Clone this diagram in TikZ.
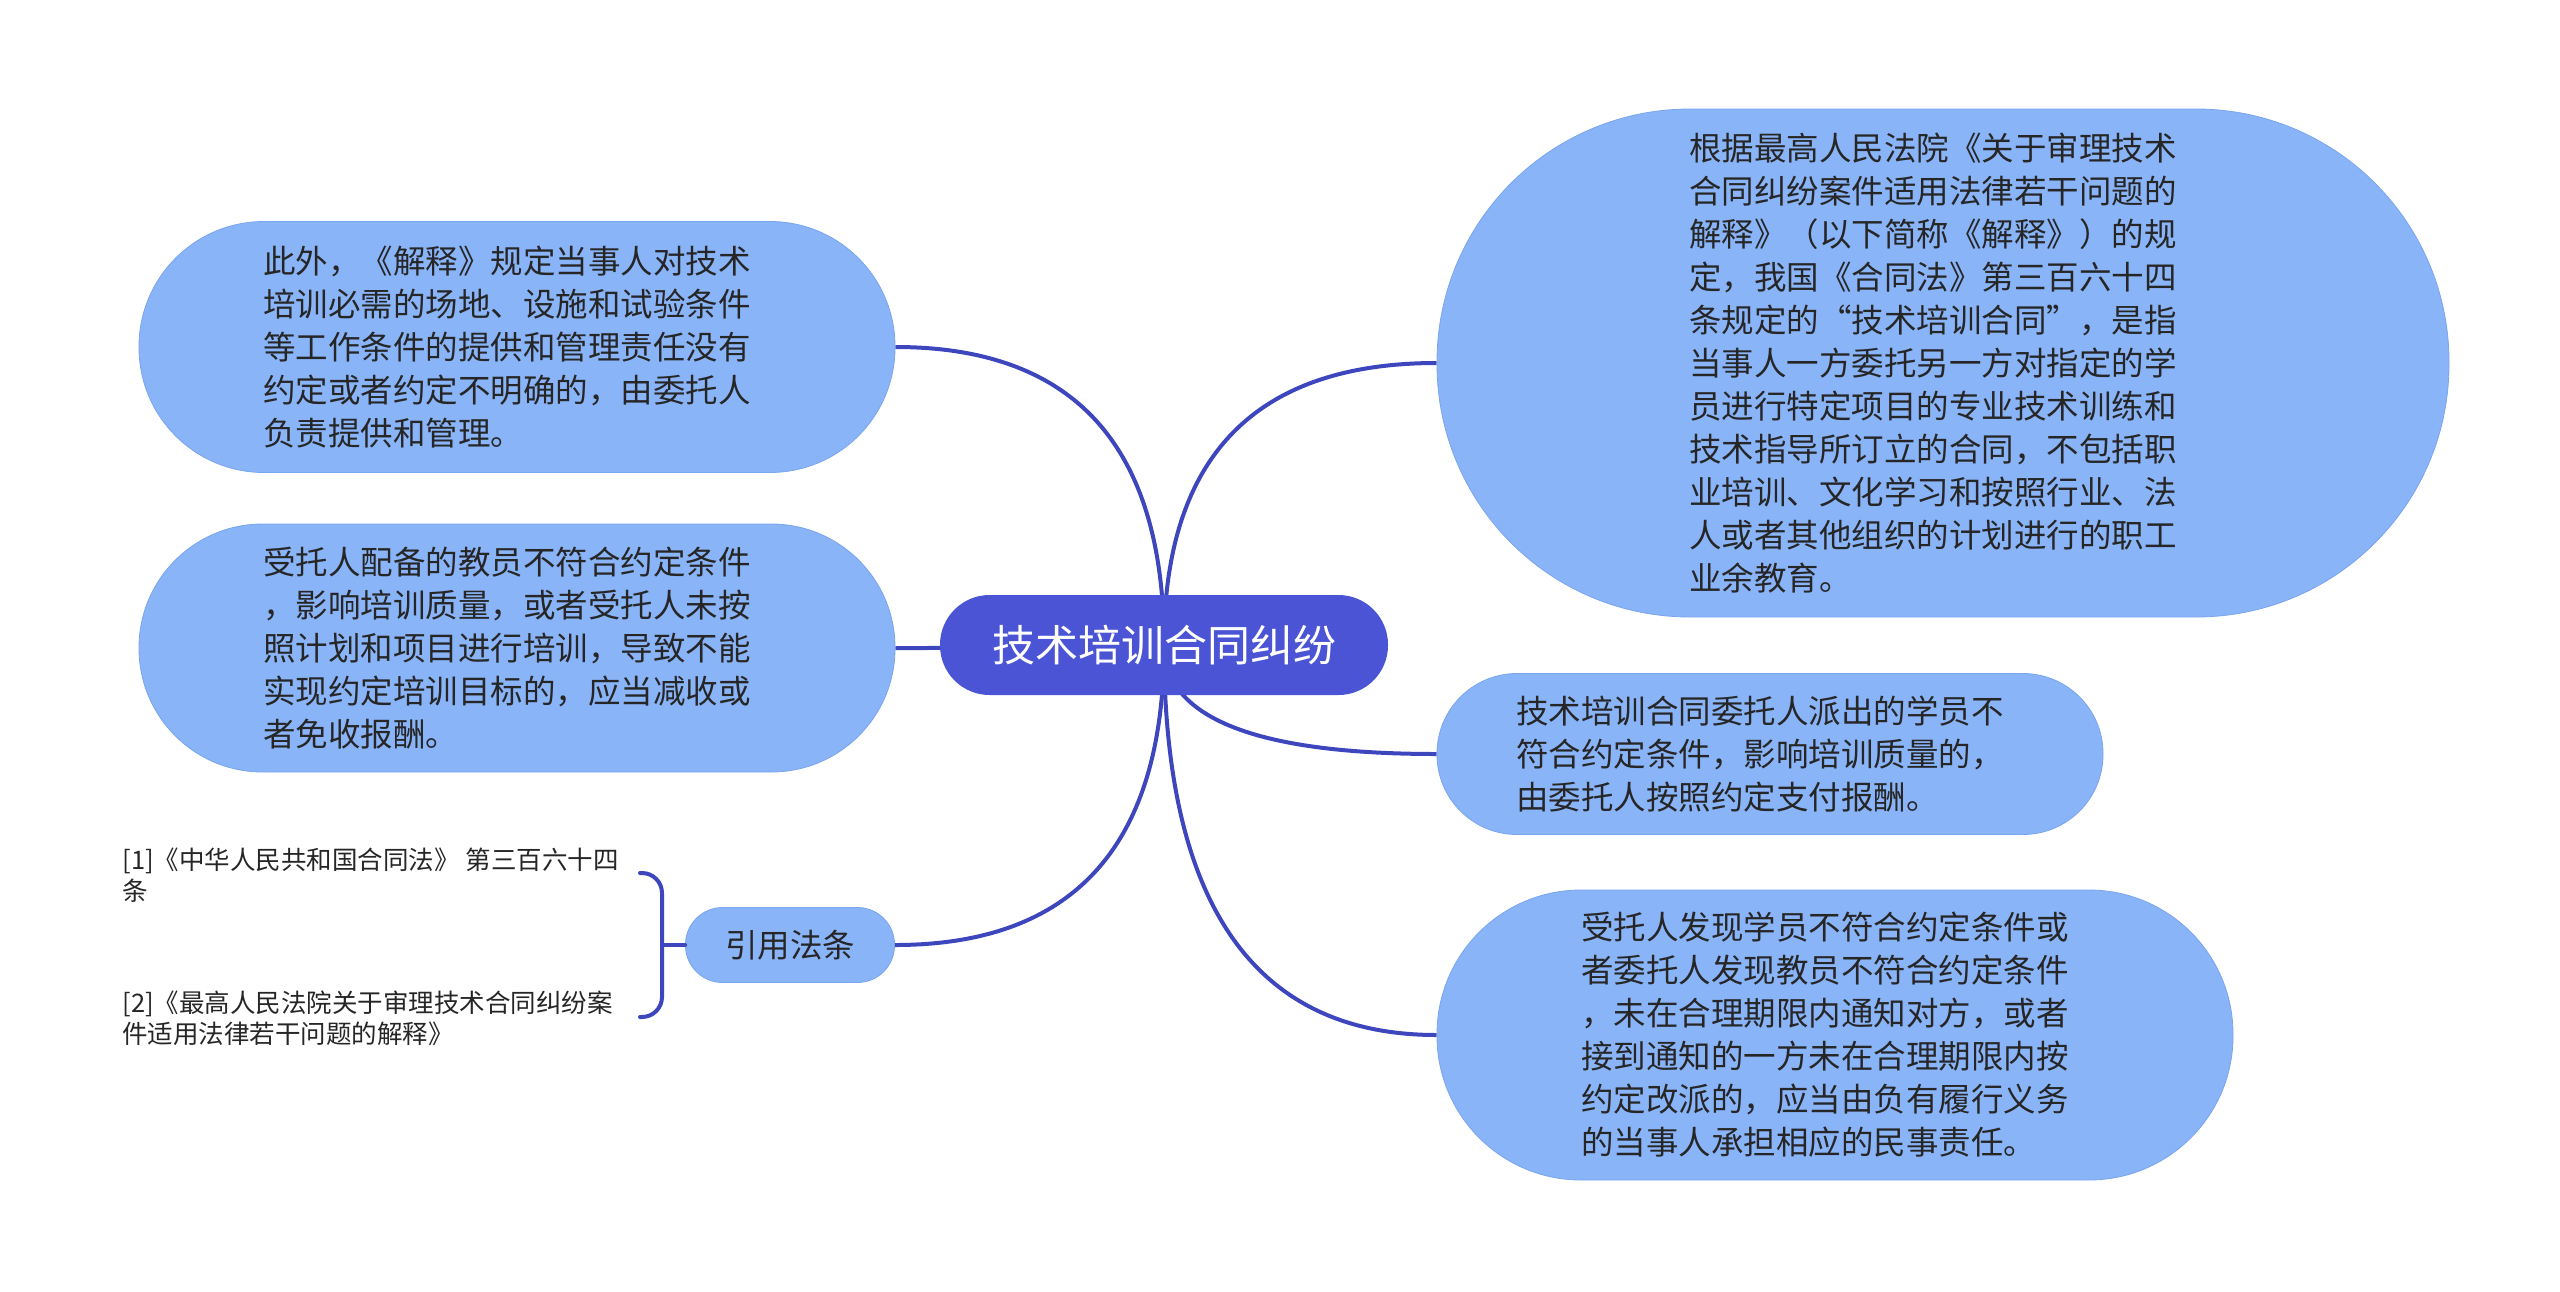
\documentclass[tikz,border=0pt]{standalone}
\usepackage{fontspec}
\setmainfont{Noto Sans CJK SC}
\usetikzlibrary{calc,backgrounds}
\definecolor{hubblue}{RGB}{74,84,213}
\definecolor{leafblue}{RGB}{138,180,248}
\definecolor{leafedge}{RGB}{122,164,238}
\definecolor{linkblue}{RGB}{62,70,190}
\definecolor{inktext}{RGB}{38,38,38}
\begin{document}
\begin{tikzpicture}[x=0.5pt,y=-0.5pt,line cap=round,line join=round,
  hub/.style={fill=hubblue,text=white,font=\fontsize{21.5}{26}\selectfont},
  pill/.style={fill=leafblue,draw=leafedge,line width=0.4pt,text=inktext,font=\fontsize{16.25}{21.5}\selectfont},
  leaf/.style={pill,text width=254pt,align=left},
  cite/.style={inner sep=0pt,align=left,text=inktext,font=\fontsize{12.75}{15.5}\selectfont},
  link/.style={draw=linkblue,line width=2pt},
  branch/.style={to path={.. controls ($(\tikztostart)!2/3!(\tikztostart |- \tikztotarget)$)
    and ($(\tikztotarget)!2/3!(\tikztostart |- \tikztotarget)$) .. (\tikztotarget)}}]
  \useasboundingbox (0,0) rectangle (2560,1291);

  \node[hub,minimum width=224pt,minimum height=50pt,rounded corners=24.8pt] (hub) at (1164,645) {技术培训合同纠纷};

  \node[leaf,minimum width=378pt,minimum height=125.5pt,rounded corners=62.5pt] (site) at (517,347)
    {此外，《解释》规定当事人对技术\\培训必需的场地、设施和试验条件\\等工作条件的提供和管理责任没有\\约定或者约定不明确的，由委托人\\负责提供和管理。};
  \node[leaf,minimum width=378pt,minimum height=124pt,rounded corners=61.8pt] (tutor) at (517,648)
    {受托人配备的教员不符合约定条件\\，影响培训质量，或者受托人未按\\照计划和项目进行培训，导致不能\\实现约定培训目标的，应当减收或\\者免收报酬。};
  \node[pill,minimum width=104.5pt,minimum height=37.5pt,rounded corners=18.5pt] (cites) at (790,945) {引用法条};

  \node[leaf,minimum width=506pt,minimum height=254pt,rounded corners=126.5pt] (define) at (1943,363)
    {根据最高人民法院《关于审理技术\\合同纠纷案件适用法律若干问题的\\解释》（以下简称《解释》）的规\\定，我国《合同法》第三百六十四\\条规定的“技术培训合同”，是指\\当事人一方委托另一方对指定的学\\员进行特定项目的专业技术训练和\\技术指导所订立的合同，不包括职\\业培训、文化学习和按照行业、法\\人或者其他组织的计划进行的职工\\业余教育。};
  \node[leaf,minimum width=333pt,minimum height=80.5pt,rounded corners=40pt] (trainee) at (1770,754)
    {技术培训合同委托人派出的学员不\\符合约定条件，影响培训质量的，\\由委托人按照约定支付报酬。};
  \node[leaf,minimum width=398pt,minimum height=145pt,rounded corners=72pt] (notice) at (1835,1035)
    {受托人发现学员不符合约定条件或\\者委托人发现教员不符合约定条件\\，未在合理期限内通知对方，或者\\接到通知的一方未在合理期限内按\\约定改派的，应当由负有履行义务\\的当事人承担相应的民事责任。};

  \node[cite,anchor=west] (law1) at (122,875) {[1]《中华人民共和国合同法》 第三百六十四\\条};
  \node[cite,anchor=west] (law2) at (122,1018) {[2]《最高人民法院关于审理技术合同纠纷案\\件适用法律若干问题的解释》};
  \coordinate (tip1) at (640,873);
  \coordinate (tip2) at (640,1017);
  \coordinate (brace) at (662,945);

  \begin{scope}[on background layer]
    \draw[link] (hub.center) to[branch] (site.east);
    \draw[link] (hub.center) to[branch] (tutor.east);
    \draw[link] (hub.center) to[branch] (cites.east);
    \draw[link] (hub.center) to[branch] (define.west);
    \draw[link] (hub.center) to[branch] (trainee.west);
    \draw[link] (hub.center) to[branch] (notice.west);
  \end{scope}
  \draw[link,rounded corners=10pt] (tip1) -- (tip1 -| brace) -- (tip2 -| brace) -- (tip2);
  \draw[link] (brace) -- (cites.west);
\end{tikzpicture}
\end{document}
